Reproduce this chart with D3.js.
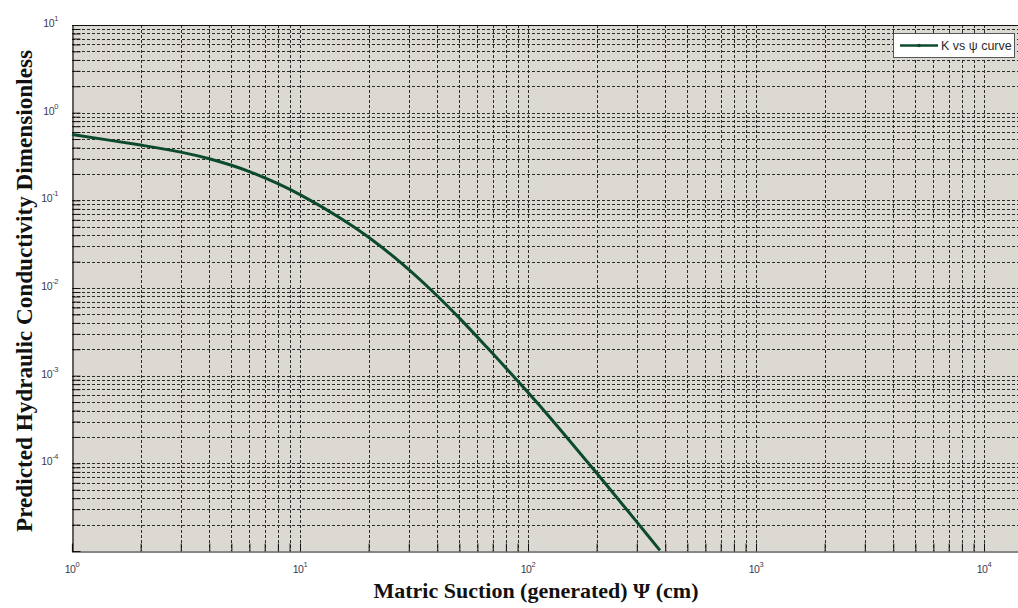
<!DOCTYPE html>
<html>
<head>
<meta charset="utf-8">
<script src="https://cdn.jsdelivr.net/npm/d3@7"></script>
<style>
  html, body { margin: 0; padding: 0; background: #ffffff; }
  svg { display: block; }
</style>
</head>
<body>
<svg id="chart" width="1018" height="608"></svg>
<script>
// Matric suction (cm) and predicted relative hydraulic conductivity
const suction = [1, 2, 3, 4, 5, 6, 8, 10, 15, 20, 27.5, 38.5, 50.4, 65.9, 89.1, 120.8, 197, 300, 379];
const conductivity = [0.5623, 0.4266, 0.3548, 0.2985, 0.2512, 0.2128, 0.1549, 0.1161, 0.0630, 0.0380,
                      0.01972, 0.00895, 0.004446, 0.002118, 0.000897, 0.000368, 0.0000811, 0.0000215, 0.00001016];
const xTickExponents = [0, 1, 2, 3, 4];
const yTickExponents = [1, 0, -1, -2, -3, -4];
const seriesName = "K vs \u03C8 curve";
const xTitle = "Matric Suction (generated) \u03A8 (cm)";
const yTitle = "Predicted Hydraulic Conductivity Dimensionless";

const svg = d3.select("#chart");
const plotLeft = 72, plotTop = 25, plotBottom = 551, decadeW = 228;
const xMax = 1.5e4;
const plotRight = plotLeft + decadeW * Math.log10(xMax);

const x = d3.scaleLog().domain([1, xMax]).range([plotLeft, plotRight]);
const y = d3.scaleLog().domain([1e-5, 10]).range([plotBottom, plotTop]);

// plot background
svg.append("rect")
  .attr("x", plotLeft).attr("y", plotTop)
  .attr("width", plotRight - plotLeft).attr("height", plotBottom - plotTop)
  .attr("fill", "#dcd8d2");

// log grid values (major + minor)
const xGridVals = [];
for (let e = 0; e <= 4; e++) for (let m = 1; m <= 9; m++) {
  const v = m * Math.pow(10, e);
  if (v > 1 && v <= xMax) xGridVals.push(v);
}
const yGridVals = [];
for (let e = -5; e <= 0; e++) for (let m = 1; m <= 9; m++) {
  const v = m * Math.pow(10, e);
  if (v > 1e-5 && v < 10) yGridVals.push(v);
}
yGridVals.push(10);

const grid = svg.append("g")
  .attr("stroke", "#2a2a2a")
  .attr("stroke-width", 1)
  .attr("stroke-dasharray", "3,2")
  .attr("fill", "none");

grid.selectAll("line.gx").data(xGridVals).join("line")
  .attr("class", "gx")
  .attr("x1", d => Math.round(x(d)) + 0.5).attr("x2", d => Math.round(x(d)) + 0.5)
  .attr("y1", plotTop).attr("y2", plotBottom);

grid.selectAll("line.gy").data(yGridVals).join("line")
  .attr("class", "gy")
  .attr("y1", d => Math.round(y(d)) + 0.5).attr("y2", d => Math.round(y(d)) + 0.5)
  .attr("x1", plotLeft).attr("x2", plotRight);

// axes with inward ticks
const xAxis = d3.axisBottom(x)
  .tickValues(xGridVals.filter(v => v < xMax))
  .tickSize(-8).tickFormat("");
svg.append("g")
  .attr("transform", `translate(0,${plotBottom + 0.5})`)
  .call(xAxis)
  .call(g => g.select(".domain").attr("stroke", "#111").attr("stroke-width", 1.2))
  .call(g => g.selectAll(".tick line").attr("stroke", "#111"));

const yAxis = d3.axisLeft(y)
  .tickValues(yGridVals)
  .tickSize(-8).tickFormat("");
svg.append("g")
  .attr("transform", `translate(${plotLeft + 0.5},0)`)
  .call(yAxis)
  .call(g => g.select(".domain").attr("stroke", "#111").attr("stroke-width", 1.2))
  .call(g => g.selectAll(".tick line").attr("stroke", "#111"));

// top border
svg.append("line")
  .attr("x1", plotLeft).attr("x2", plotRight)
  .attr("y1", plotTop + 0.5).attr("y2", plotTop + 0.5)
  .attr("stroke", "#111").attr("stroke-width", 1.2);

// tick labels as 10 with superscript exponent
const labelColor = "#3b3850";
const xl = svg.append("g").attr("font-family", "Liberation Sans, Arial, sans-serif")
  .attr("fill", labelColor);
xTickExponents.forEach(e => {
  const t = xl.append("text")
    .attr("x", x(Math.pow(10, e)))
    .attr("y", plotBottom + 22)
    .attr("text-anchor", "middle")
    .attr("font-size", 10.5)
    .attr("letter-spacing", -0.4);
  t.append("tspan").text("10");
  t.append("tspan").attr("dy", -6).attr("font-size", 7.5).text(e);
});

const yl = svg.append("g").attr("font-family", "Liberation Sans, Arial, sans-serif")
  .attr("fill", labelColor);
yTickExponents.forEach(e => {
  const t = yl.append("text")
    .attr("x", plotLeft - 14)
    .attr("y", y(Math.pow(10, e)) + 2)
    .attr("text-anchor", "end")
    .attr("font-size", 10.5)
    .attr("letter-spacing", -0.4);
  t.append("tspan").text("10");
  t.append("tspan").attr("dy", -6).attr("font-size", 7.5).text(e);
});

// K vs psi curve
const pts = suction.map((s, i) => [s, conductivity[i]]);
const line = d3.line()
  .x(d => x(d[0]))
  .y(d => y(d[1]))
  .curve(d3.curveCatmullRom.alpha(0.5));
svg.append("path")
  .datum(pts)
  .attr("d", line)
  .attr("fill", "none")
  .attr("stroke", "#0c4a2c")
  .attr("stroke-width", 3)
  .attr("stroke-linejoin", "round");

// legend
const lg = svg.append("g");
lg.append("rect")
  .attr("x", 893.5).attr("y", 33.5)
  .attr("width", 121).attr("height", 24)
  .attr("fill", "#ffffff")
  .attr("stroke", "#555").attr("stroke-width", 1);
lg.append("line")
  .attr("x1", 900).attr("x2", 938).attr("y1", 45.5).attr("y2", 45.5)
  .attr("stroke", "#0c4a2c").attr("stroke-width", 2.5);
lg.append("circle")
  .attr("cx", 919).attr("cy", 45.5).attr("r", 1.8)
  .attr("fill", "#0c4a2c");
lg.append("text")
  .attr("x", 941).attr("y", 50)
  .attr("font-family", "Liberation Sans, Arial, sans-serif")
  .attr("font-size", 12.5)
  .attr("fill", "#2a2a2a")
  .text(seriesName);

// axis titles
svg.append("text")
  .attr("x", 536).attr("y", 598)
  .attr("text-anchor", "middle")
  .attr("font-family", "Liberation Serif, Times New Roman, serif")
  .attr("font-weight", "bold")
  .attr("font-size", 22)
  .attr("fill", "#111")
  .text(xTitle);

svg.append("text")
  .attr("transform", "translate(32,291) rotate(-90)")
  .attr("text-anchor", "middle")
  .attr("font-family", "Liberation Serif, Times New Roman, serif")
  .attr("font-weight", "bold")
  .attr("font-size", 23.2)
  .attr("fill", "#111")
  .text(yTitle);
</script>
</body>
</html>
